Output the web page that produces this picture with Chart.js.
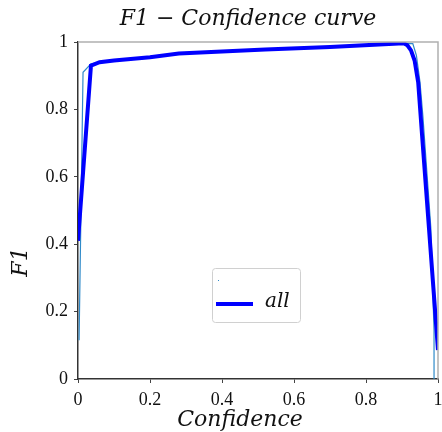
<!DOCTYPE html>
<html>
<head>
<meta charset="utf-8">
<script src="https://cdn.jsdelivr.net/npm/chart.js@4"></script>
<style>
  html, body { margin: 0; padding: 0; background: #fff; }
  #wrap { width: 442px; height: 432px; }
</style>
</head>
<body>
<div id="wrap"><canvas id="f1Chart"></canvas></div>
<script>
// datos
const seriesNames = ['', 'all'];
const chartTitle = 'F1 − Confidence curve';
const xLabel = 'Confidence';
const yLabel = 'F1';
const xTicks = [0, 0.2, 0.4, 0.6, 0.8, 1];
const yTicks = [0, 0.2, 0.4, 0.6, 0.8, 1];

const classConf = [0.003, 0.014, 0.036, 0.06, 0.1, 0.2, 0.28, 0.4, 0.52, 0.7, 0.85, 0.905, 0.93, 0.94, 0.95, 0.958, 0.97, 0.98, 0.989, 0.989];
const classF1   = [0.115, 0.91, 0.935, 0.94, 0.945, 0.955, 0.966, 0.972, 0.978, 0.985, 0.993, 0.996, 0.995, 0.96, 0.88, 0.78, 0.6, 0.45, 0.145, 0];

const allConf = [0, 0.036, 0.06, 0.1, 0.2, 0.28, 0.4, 0.52, 0.7, 0.85, 0.905, 0.915, 0.925, 0.935, 0.945, 0.956, 0.965, 0.975, 0.987, 1.0];
const allF1   = [0.41, 0.93, 0.94, 0.945, 0.955, 0.966, 0.972, 0.978, 0.985, 0.993, 0.996, 0.99, 0.975, 0.945, 0.88, 0.72, 0.59, 0.446, 0.273, 0.086];

const toPoints = (xs, ys) => xs.map((x, i) => ({ x: x, y: ys[i] }));

const serif = '"Liberation Serif", "DejaVu Serif", serif';
const mathFont = '"DejaVu Serif", "Liberation Serif", serif';

// marco gris, titulos y leyenda
const framePlugin = {
    id: 'frame',
    afterDatasetsDraw(chart) {
        const { ctx, chartArea: a } = chart;
        ctx.save();
        ctx.strokeStyle = '#b0b0b0';
        ctx.lineWidth = 1.5;
        ctx.beginPath();
        ctx.moveTo(a.left, a.top);
        ctx.lineTo(a.right, a.top);
        ctx.lineTo(a.right, a.bottom);
        ctx.stroke();

        // titulos
        ctx.fillStyle = '#111';
        ctx.textAlign = 'center';
        ctx.textBaseline = 'middle';
        ctx.font = 'italic 22px ' + mathFont;
        ctx.fillText(chartTitle, 248, 19);
        ctx.fillText(xLabel, 240, 420);
        ctx.save();
        ctx.translate(21, 262);
        ctx.rotate(-Math.PI / 2);
        ctx.fillText(yLabel, 0, 0);
        ctx.restore();

        // leyenda
        const bx = 212.5, by = 268.5, bw = 88, bh = 54, r = 3;
        ctx.fillStyle = 'rgba(255,255,255,0.85)';
        ctx.strokeStyle = '#d0d0d0';
        ctx.lineWidth = 1;
        ctx.beginPath();
        ctx.roundRect(bx, by, bw, bh, r);
        ctx.fill();
        ctx.stroke();

        const ds = chart.data.datasets;
        ctx.fillStyle = ds[0].borderColor;
        ctx.fillRect(218, 280, 1, 1);

        ctx.strokeStyle = ds[1].borderColor;
        ctx.lineWidth = 4;
        ctx.beginPath();
        ctx.moveTo(216, 304);
        ctx.lineTo(253, 304);
        ctx.stroke();

        ctx.fillStyle = '#111';
        ctx.font = 'italic 20px ' + mathFont;
        ctx.textAlign = 'left';
        ctx.fillText(ds[1].label, 265, 302);
        ctx.restore();
    }
};

const ctxF1 = document.getElementById('f1Chart').getContext('2d');
const f1Chart = new Chart(ctxF1, {
    type: 'line',
    data: {
        datasets: [{
            label: seriesNames[0],
            data: toPoints(classConf, classF1),
            borderColor: '#2f8ac9',
            borderWidth: 1.2,
            pointRadius: 0,
            tension: 0,
            order: 2
        }, {
            label: seriesNames[1],
            data: toPoints(allConf, allF1),
            borderColor: '#0000ff',
            borderWidth: 4,
            pointRadius: 0,
            tension: 0,
            order: 1
        }]
    },
    options: {
        responsive: true,
        maintainAspectRatio: false,
        animation: false,
        layout: { padding: { left: 0, right: 4, top: 42, bottom: 0 } },
        plugins: {
            legend: { display: false },
            tooltip: { enabled: false },
            title: { display: false }
        },
        scales: {
            x: {
                type: 'linear',
                min: 0,
                max: 1,
                afterBuildTicks: s => { s.ticks = xTicks.map(v => ({ value: v })); },
                afterFit: s => { s.height = 53; s.paddingRight = 0; s.paddingLeft = 0; },
                grid: { drawOnChartArea: false, drawTicks: true, tickLength: 4, color: '#444' },
                border: { color: '#333', width: 1.5 },
                ticks: {
                    color: '#111',
                    padding: 6,
                    maxRotation: 0,
                    font: { family: serif, size: 18 },
                    callback: v => String(v)
                },
                title: { display: false }
            },
            y: {
                type: 'linear',
                min: 0,
                max: 1,
                afterBuildTicks: s => { s.ticks = yTicks.map(v => ({ value: v })); },
                afterFit: s => { s.width = 78; s.paddingTop = 0; s.paddingBottom = 0; },
                grid: { drawOnChartArea: false, drawTicks: true, tickLength: 4, color: '#444' },
                border: { color: '#333', width: 1.5 },
                ticks: {
                    color: '#111',
                    padding: 6,
                    font: { family: serif, size: 18 },
                    callback: v => String(v)
                },
                title: { display: false }
            }
        }
    },
    plugins: [framePlugin]
});
</script>
</body>
</html>
